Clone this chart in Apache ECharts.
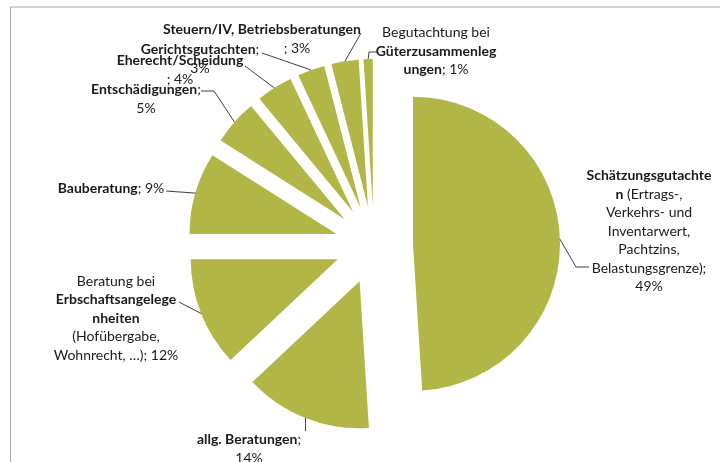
<!DOCTYPE html>
<html>
<head>
<meta charset="utf-8">
<script src="https://cdn.jsdelivr.net/npm/echarts@6/dist/echarts.min.js"></script>
<style>
  html, body { margin: 0; padding: 0; background: #ffffff; }
  #chart { width: 720px; height: 462px; }
</style>
</head>
<body>
<div id="chart"></div>
<script>
// ---- data ----
const categories = [
  'Schätzungsgutachten (Ertrags-, Verkehrs- und Inventarwert, Pachtzins, Belastungsgrenze)',
  'allg. Beratungen',
  'Beratung bei Erbschaftsangelegenheiten (Hofübergabe, Wohnrecht, …)',
  'Bauberatung',
  'Entschädigungen',
  'Eherecht/Scheidung',
  'Gerichtsgutachten',
  'Steuern/IV, Betriebsberatungen',
  'Begutachtung bei Güterzusammenlegungen'
];
const values = [49, 14, 12, 9, 5, 4, 3, 3, 1];

// label texts (rich), "#" is replaced by the percentage value
const labelTemplates = [
  '{b|Schätzungsgutachte}\n{b|n} (Ertrags-,\nVerkehrs- und\nInventarwert,\nPachtzins,\nBelastungsgrenze);\n#%',
  '{b|allg. Beratungen};\n#%',
  'Beratung bei\n{b|Erbschaftsangelege}\n{b|nheiten}\n(Hofübergabe,\nWohnrecht, …); #%',
  '{b|Bauberatung}; #%',
  '{b|Entschädigungen};\n#%',
  '{b|Eherecht/Scheidung}\n; #%',
  '{b|Gerichtsgutachten};\n#%',
  '{b|Steuern/IV, Betriebsberatungen}\n{sp|}; #%',
  'Begutachtung bei\n{b|Güterzusammenleg}\n{b|ungen}; #%'
];

// ---- layout (label centres and leader-line label-side points) ----
const labelCentres = [
  [649, 231], [249, 449], [116, 318], [111, 188], [146, 99],
  [180, 70], [200, 59], [262, 39], [436, 51]
];
// leader line points on the label side (from slice towards the label); null x = keep slice x
const leaderEnds = [
  [[576, 267], [589, 267]],
  [[null, 431]],
  [[179, 302]],
  [[166, 191]],
  [[214, 91], [201, 91]],
  [[245, 66]],
  [[262, 53]],
  [[361, 33]],
  [[369, 52], [377, 52]]
];

const chart = echarts.init(document.getElementById('chart'), null, { renderer: 'canvas' });
const sliceColor = '#b1b646';
const explode = 39;
const FONT = 'Lato';

const option = {
  animation: false,
  backgroundColor: '#ffffff',
  series: [{
    type: 'pie',
    center: [374, 245],
    radius: [0, 147],
    startAngle: 90,
    clockwise: true,
    avoidLabelOverlap: false,
    selectedMode: 'multiple',
    selectedOffset: explode,
    itemStyle: { color: sliceColor, borderWidth: 0 },
    select: { itemStyle: { color: sliceColor, borderWidth: 0 } },
    emphasis: { disabled: true },
    label: { show: false },
    labelLine: { show: false },
    data: categories.map(function (name, i) {
      return { name: name, value: values[i], selected: true };
    })
  }]
};
chart.setOption(option);

// ---- labels and leader lines, anchored on the library's pie layout ----
const pieData = chart.getModel().getSeriesByIndex(0).getData();
const graphics = [
  { type: 'line', shape: { x1: 10, y1: 7, x2: 720, y2: 7 }, style: { stroke: '#d6d6d6', lineWidth: 2 }, silent: true },
  { type: 'line', shape: { x1: 10.5, y1: 7, x2: 10.5, y2: 462 }, style: { stroke: '#a8a8a8', lineWidth: 1 }, silent: true }
];
for (let i = 0; i < values.length; i++) {
  const L = pieData.getItemLayout(i);
  const mid = (L.startAngle + L.endAngle) / 2;
  const px = L.cx + Math.cos(mid) * (explode + L.r);
  const py = L.cy + Math.sin(mid) * (explode + L.r);
  const pts = [[px, py]].concat(leaderEnds[i].map(function (p) {
    return [p[0] == null ? px : p[0], p[1]];
  }));
  graphics.push({
    type: 'polyline', silent: true, z: 10,
    shape: { points: pts },
    style: { stroke: '#404040', lineWidth: 1, fill: null }
  });
  const text = labelTemplates[i].replace('#', values[i]);
  graphics.push({
    type: 'text', silent: true, z: 11,
    x: labelCentres[i][0], y: labelCentres[i][1],
    style: {
      text: text,
      align: 'center', verticalAlign: 'middle',
      fontFamily: FONT, fontSize: 14, lineHeight: 18.5,
      fill: '#1a1a1a',
      rich: {
        b: { fontFamily: FONT, fontSize: 14, fontWeight: 'bold', lineHeight: 18.5, fill: '#1a1a1a' },
        sp: { width: 70, height: 10 }
      }
    }
  });
}
chart.setOption({ graphic: graphics });
</script>
</body>
</html>
